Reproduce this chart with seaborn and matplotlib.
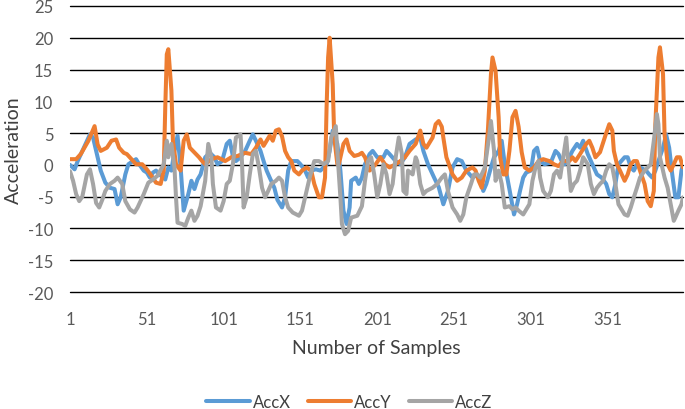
import matplotlib
matplotlib.use("Agg")
import matplotlib.pyplot as plt
import seaborn as sns
import pandas as pd

# values (sample number, acceleration)
series_names = ["AccX", "AccY", "AccZ"]

accx_samples = [1, 4, 6, 10, 14, 16, 19, 21, 24, 27, 30, 32, 34, 37, 39, 42, 44, 46, 49, 51,
                53, 55, 57, 59, 62, 63, 65, 67, 69, 71, 73, 75, 78, 80, 82, 84, 86, 89, 92, 95,
                97, 100, 103, 105, 107, 109, 112, 115, 118, 120, 122, 125, 127, 129, 131, 134, 136, 139, 141, 143,
                145, 149, 151, 154, 156, 158, 161, 164, 166, 168, 170, 172, 175, 177, 179, 181, 183, 184, 187, 189,
                191, 193, 196, 198, 201, 203, 205, 207, 209, 213, 216, 219, 222, 226, 229, 231, 234, 238, 241, 244,
                247, 250, 253, 256, 259, 263, 266, 268, 270, 272, 275, 277, 280, 282, 284, 288, 290, 292, 294, 296,
                298, 301, 303, 305, 307, 310, 314, 317, 319, 321, 323, 326, 328, 331, 333, 335, 338, 341, 344, 347,
                350, 352, 354, 356, 358, 362, 364, 366, 368, 370, 372, 376, 378, 380, 382, 384, 387, 389, 391, 393,
                395, 397, 399, 400]
accx_values = [0.0, -0.7, 0.6, 2.7, 4.8, 4.3, 1.2, -0.9, -2.8, -3.6, -3.8, -6.2, -5.1, -1.5, 0.1, 0.6, 0.9, 0.1, -0.9, -1.2,
               -2.0, -1.2, -0.9, -1.5, -2.0, -2.3, -0.4, -0.9, 2.2, 4.6, -0.4, -7.2, -4.6, -2.5, -3.8, -2.3, -1.5, 1.2, 1.9, 1.2,
               0.1, 0.6, 3.3, 3.8, 1.4, 0.6, 1.2, 2.2, 3.8, 4.8, 3.8, 2.2, 0.6, -0.9, -2.0, -3.6, -5.5, -6.7, -5.1, -0.9,
               0.6, 0.6, 0.1, -0.9, -2.0, -0.9, -0.7, -0.9, -0.4, 0.1, 2.2, 5.4, 3.3, -0.9, -7.2, -9.3, -6.7, -2.5, -2.0, -3.0,
               -2.0, 0.1, 1.7, 2.2, 1.2, 1.2, 1.2, 2.2, 1.7, 0.6, 0.1, 1.2, 3.3, 4.0, 4.3, 2.2, 0.1, -2.0, -3.5, -6.2,
               -4.1, -0.4, 0.9, 0.6, -0.9, -2.0, -1.5, -2.0, -4.1, -3.0, -0.4, 1.2, 2.2, 3.8, 0.1, -5.1, -7.8, -6.2, -4.0, -2.0,
               -1.2, -0.9, 2.2, 2.7, 0.6, 0.1, 0.4, 2.2, 1.7, 0.6, 0.1, 1.2, 2.2, 3.3, 2.7, 3.8, 1.7, 0.1, -1.5, -2.0,
               -3.0, -4.6, -5.1, -3.0, 0.1, 1.2, 1.2, -0.4, -0.9, 0.1, -0.4, -0.9, -1.5, -2.0, -0.9, 0.6, 2.7, 4.8, 2.7, -1.5,
               -5.1, -5.1, -0.9, 0.1]

accy_samples = [1, 5, 8, 13, 17, 19, 21, 25, 28, 31, 33, 36, 38, 41, 44, 48, 51, 54, 57, 60,
                62, 63, 64, 65, 67, 68, 70, 73, 75, 77, 79, 81, 85, 87, 89, 93, 97, 102, 106, 110,
                115, 119, 122, 125, 127, 129, 131, 133, 135, 137, 139, 141, 143, 145, 147, 150, 152, 155, 158, 160,
                163, 165, 167, 168, 169, 170, 172, 173, 175, 176, 179, 181, 183, 186, 189, 191, 193, 196, 200, 203,
                206, 209, 213, 216, 219, 222, 226, 229, 231, 233, 237, 239, 241, 243, 244, 246, 250, 253, 256, 259,
                263, 265, 267, 269, 271, 273, 275, 276, 278, 280, 281, 283, 285, 287, 289, 291, 293, 295, 297, 300,
                303, 306, 309, 313, 316, 319, 322, 326, 328, 330, 333, 337, 339, 341, 343, 346, 348, 350, 352, 354,
                355, 357, 359, 362, 364, 366, 368, 370, 372, 375, 377, 379, 381, 382, 384, 385, 387, 388, 390, 392,
                394, 396, 398, 400]
accy_values = [0.9, 0.9, 1.7, 3.8, 6.1, 3.2, 2.2, 2.7, 3.8, 4.0, 2.7, 1.9, 1.7, 0.9, 0.1, 0.1, -0.7, -1.7, -2.8, -3.0,
               -0.9, 9.0, 17.4, 18.2, 11.7, 3.8, 0.1, -0.9, 3.8, 4.8, 2.7, 2.2, 1.2, 0.6, 0.1, 0.9, 1.2, 0.6, 1.2, 1.4,
               1.9, 1.7, 2.7, 4.0, 3.0, 3.8, 4.6, 3.8, 5.4, 5.6, 4.5, 2.2, 1.2, 0.6, -0.9, -1.5, -0.9, -0.4, -0.9, -3.0,
               -5.1, -5.1, -2.0, 9.0, 16.9, 20.0, 12.7, 4.3, 0.1, 0.1, 3.3, 4.0, 2.2, 1.4, 1.6, 1.9, 1.2, -0.9, 0.1, 1.2,
               0.1, -0.4, 0.1, 0.6, 1.2, 2.2, 3.3, 5.4, 3.3, 2.7, 4.3, 6.4, 6.9, 6.0, 4.3, 1.2, -1.5, -2.5, -2.0, -0.9,
               -0.4, -0.9, -2.5, -3.6, -0.9, 5.4, 14.3, 16.9, 14.8, 7.5, 1.2, -1.5, -1.5, 2.2, 7.5, 8.5, 6.0, 2.0, -0.4, -0.9,
               -0.4, 0.6, 0.9, 0.6, 0.1, -0.2, 0.6, 0.6, 1.2, 0.6, 1.7, 3.3, 3.8, 2.7, 1.2, 2.0, 3.5, 5.0, 6.4, 5.4,
               2.2, 0.1, -0.9, -2.5, -1.5, 0.1, 0.6, 0.6, -0.9, -3.0, -5.7, -6.5, -4.1, 6.4, 16.9, 18.5, 14.3, 4.8, 0.1, -0.9,
               0.1, 1.2, 1.2, -0.4]

accz_samples = [1, 3, 5, 7, 9, 12, 14, 16, 18, 20, 22, 24, 27, 30, 32, 35, 37, 40, 43, 45,
                49, 52, 55, 58, 62, 64, 65, 67, 69, 70, 71, 74, 76, 78, 80, 82, 84, 86, 89, 91,
                93, 94, 96, 99, 101, 103, 105, 107, 109, 112, 113, 114, 116, 118, 120, 122, 124, 126, 128, 130,
                132, 135, 137, 139, 141, 143, 146, 150, 152, 154, 157, 160, 163, 166, 169, 171, 174, 175, 177, 178,
                180, 182, 184, 188, 191, 193, 195, 197, 199, 201, 203, 205, 207, 209, 211, 213, 215, 217, 218, 220,
                221, 224, 226, 227, 229, 231, 233, 237, 240, 243, 245, 247, 250, 253, 255, 257, 259, 262, 264, 266,
                268, 271, 274, 275, 277, 278, 280, 282, 284, 287, 289, 291, 293, 296, 300, 302, 304, 306, 307, 309,
                312, 314, 316, 318, 320, 322, 324, 325, 327, 329, 331, 333, 335, 338, 340, 342, 344, 346, 348, 350,
                352, 354, 356, 358, 362, 364, 366, 368, 370, 372, 375, 377, 379, 381, 383, 384, 385, 388, 390, 392,
                394, 395, 397, 399, 400]
accz_values = [-1.0, -2.5, -4.6, -5.7, -5.0, -1.5, -0.7, -3.0, -6.0, -6.7, -5.5, -4.1, -3.0, -2.5, -2.0, -3.0, -5.7, -7.0, -7.5, -6.7,
               -4.6, -2.8, -2.3, -1.7, 0.1, 3.8, 1.2, 3.3, -0.4, -5.1, -9.1, -9.3, -9.6, -8.3, -7.2, -8.8, -8.0, -6.5, -2.5, 3.3,
               1.2, -3.0, -6.7, -7.2, -5.7, -3.0, -2.5, 0.1, 4.3, 4.8, 0.1, -6.7, -5.1, -1.5, 1.7, 2.2, -0.4, -3.6, -5.1, -4.1,
               -3.0, -2.5, -2.0, -2.5, -5.1, -6.7, -7.5, -8.0, -7.2, -5.1, -2.0, 0.6, 0.6, 0.1, 0.6, 4.3, 6.1, 2.2, -5.1, -9.3,
               -10.9, -10.4, -8.3, -8.0, -6.5, -2.5, 0.6, 1.2, -1.5, -5.1, -3.0, 0.1, -1.5, -4.6, -3.0, 1.2, 4.3, 1.7, -4.1, -4.6,
               -0.9, -1.5, 1.2, 0.6, -3.0, -4.6, -4.1, -3.6, -3.0, -2.0, -1.5, -4.1, -6.7, -7.8, -8.8, -7.8, -5.1, -3.0, -1.5, -1.5,
               -2.0, -0.4, 4.8, 6.9, 2.2, -2.5, -0.9, -3.0, -6.7, -6.5, -7.0, -6.7, -7.2, -7.8, -6.2, -2.5, -0.4, 0.6, -2.0, -4.1,
               -5.1, -4.1, -1.5, -0.9, -2.0, 1.2, 4.3, 1.2, -4.1, -3.0, -2.5, -0.9, 1.2, 0.1, -3.0, -4.6, -3.6, -3.0, -2.5, -0.9,
               0.1, -0.4, -3.0, -6.2, -7.8, -8.0, -6.7, -5.1, -3.6, -2.0, -0.9, -0.4, 0.1, 3.8, 8.0, 6.4, 1.2, -2.0, -3.6, -6.2,
               -8.8, -8.3, -7.2, -6.2, -5.1]

x_tick_values = [1, 51, 101, 151, 201, 251, 301, 351]
y_tick_values = [-20, -15, -10, -5, 0, 5, 10, 15, 20, 25]
colors = {"AccX": "#5B9BD5", "AccY": "#ED7D31", "AccZ": "#A5A5A5"}

frames = []
for name, xs, ys in zip(series_names,
                        [accx_samples, accy_samples, accz_samples],
                        [accx_values, accy_values, accz_values]):
    frames.append(pd.DataFrame({"sample": xs, "value": ys, "series": name}))
df = pd.concat(frames, ignore_index=True)

sns.set_theme(style="white")
plt.rcParams["font.family"] = ["Lato", "DejaVu Sans"]
plt.rcParams["axes.unicode_minus"] = False

fig = plt.figure(figsize=(6.85, 4.1), dpi=100)
ax = fig.add_axes([70 / 685, 117 / 410, 613 / 685, 286 / 410])

sns.lineplot(data=df, x="sample", y="value", hue="series", hue_order=series_names,
             palette=colors, estimator=None, linewidth=2.9, legend=False, ax=ax,
             solid_joinstyle="round", solid_capstyle="round")

ax.set_xlim(1, 400)
ax.set_ylim(-20, 25)
ax.set_xticks(x_tick_values)
ax.set_xticklabels([str(v) for v in x_tick_values])
ax.set_yticks(y_tick_values)
ax.yaxis.grid(True, color="black", linewidth=1.0)
ax.xaxis.grid(False)
ax.set_axisbelow(True)
for sp in ax.spines.values():
    sp.set_visible(False)
ax.tick_params(axis="both", length=0, labelsize=12, colors="#595959")
ax.tick_params(axis="x", pad=14)
ax.tick_params(axis="y", pad=12)
for gl in ax.get_ygridlines():
    gl.set_clip_on(False)

ax.set_xlabel("")
ax.set_ylabel("")
fig.text(0.55, 0.151, "Number of Samples", ha="center", va="center", fontsize=14, color="#404040")
fig.text(0.02, 0.634, "Acceleration", ha="center", va="center", rotation=90, fontsize=14, color="#404040")

handles = ax.get_lines()[:3]
fig.legend(handles, series_names, loc="lower center", bbox_to_anchor=(0.51, -0.008), ncol=3,
           frameon=False, fontsize=12, handlelength=2.6, columnspacing=1.0, handletextpad=0.2,
           borderaxespad=0.0, borderpad=0.15, labelcolor="#404040")

fig.savefig("out.png", dpi=100)
